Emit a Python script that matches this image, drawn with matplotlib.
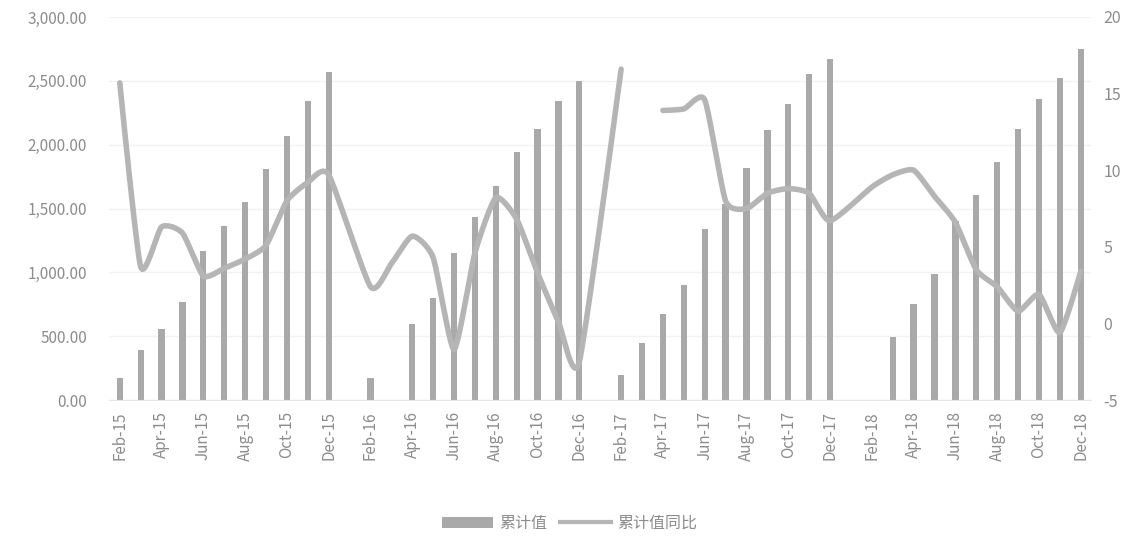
import numpy as np
import matplotlib.pyplot as plt
from matplotlib.patches import Patch
from matplotlib.lines import Line2D

plt.rcParams['font.family'] = ['Noto Sans CJK SC', 'DejaVu Sans']
plt.rcParams['axes.unicode_minus'] = False

# months present in the data (January rows are absent, as in the source)
months = [
    "2015-02", "2015-03", "2015-04", "2015-05", "2015-06", "2015-07", "2015-08", "2015-09", "2015-10", "2015-11", "2015-12",
    "2016-02", "2016-03", "2016-04", "2016-05", "2016-06", "2016-07", "2016-08", "2016-09", "2016-10", "2016-11", "2016-12",
    "2017-02", "2017-03", "2017-04", "2017-05", "2017-06", "2017-07", "2017-08", "2017-09", "2017-10", "2017-11", "2017-12",
    "2018-02", "2018-03", "2018-04", "2018-05", "2018-06", "2018-07", "2018-08", "2018-09", "2018-10", "2018-11", "2018-12",
]

cum_value = [
    170, 390, 560, 770, 1170, 1360, 1550, 1810, 2070, 2345, 2570,
    170, np.nan, 595, 800, 1155, 1430, 1680, 1940, 2120, 2340, 2500,
    200, 445, 675, 900, 1340, 1535, 1820, 2115, 2315, 2550, 2670,
    np.nan, 495, 750, 985, 1400, 1605, 1865, 2125, 2360, 2520, 2750,
]

cum_yoy = [
    15.7, 3.7, 6.3, 5.9, 3.1, 3.6, 4.2, 5.1, 8.0, 9.2, 9.7,
    2.4, 3.9, 5.7, 4.3, -1.7, 4.6, 8.2, 6.8, 3.3, 0.1, -2.5,
    16.6, np.nan, 13.9, 14.0, 14.6, 8.0, 7.5, 8.5, 8.8, 8.5, 6.7,
    8.9, 9.7, 10.0, 8.3, 6.6, 3.5, 2.4, 0.8, 1.9, -0.6, 3.4,
]

tick_labels = [
    "Feb-15", "Apr-15", "Jun-15", "Aug-15", "Oct-15", "Dec-15",
    "Feb-16", "Apr-16", "Jun-16", "Aug-16", "Oct-16", "Dec-16",
    "Feb-17", "Apr-17", "Jun-17", "Aug-17", "Oct-17", "Dec-17",
    "Feb-18", "Apr-18", "Jun-18", "Aug-18", "Oct-18", "Dec-18",
]


def month_index(s):
    year, m = s.split("-")
    return (int(year) - 2015) * 12 + (int(m) - 2)


def smooth(xs, ys, n=20, k=0.6):
    # hermite curve through the points, softer tangents than catmull-rom
    xs = np.asarray(xs, dtype=float)
    ys = np.asarray(ys, dtype=float)
    if len(xs) < 3:
        return xs, ys
    mx = np.gradient(xs) * k
    my = np.gradient(ys) * k
    mx[0] = mx[-1] = 0
    my[0] = my[-1] = 0
    t = np.linspace(0, 1, n, endpoint=False)
    h00 = 2 * t**3 - 3 * t**2 + 1
    h10 = t**3 - 2 * t**2 + t
    h01 = -2 * t**3 + 3 * t**2
    h11 = t**3 - t**2
    out_x, out_y = [], []
    for i in range(len(xs) - 1):
        out_x.extend(h00 * xs[i] + h10 * mx[i] + h01 * xs[i + 1] + h11 * mx[i + 1])
        out_y.extend(h00 * ys[i] + h10 * my[i] + h01 * ys[i + 1] + h11 * my[i + 1])
    out_x.append(xs[-1])
    out_y.append(ys[-1])
    return np.array(out_x), np.array(out_y)


x = np.array([month_index(m) for m in months])
vals = np.array(cum_value, dtype=float)
yoy = np.array(cum_yoy, dtype=float)

bar_color = "#a9a9a9"
line_color = "#b5b5b5"
text_color = "#8c8c8c"

fig = plt.figure(figsize=(11.39, 5.48), dpi=100)
ax = fig.add_axes([0.096, 0.27, 0.862, 0.699])

ok = ~np.isnan(vals)
ax.bar(x[ok], vals[ok], width=0.3, color=bar_color, zorder=2)

ax.set_xlim(-0.5, 46.5)
ax.set_ylim(0, 3000)
ax.set_yticks(np.arange(0, 3001, 500))
ax.set_yticklabels([f"{v:,.2f}" for v in np.arange(0, 3001, 500)])
ax.set_xticks(np.arange(0, 47, 2))
ax.set_xticklabels(tick_labels, rotation=90)
ax.yaxis.grid(True, color="#f2f2f2", linewidth=1, zorder=0)
ax.set_axisbelow(True)

for s in ["top", "left", "right"]:
    ax.spines[s].set_visible(False)
ax.spines["bottom"].set_color("#e6e6e6")
ax.tick_params(axis="both", length=0, colors=text_color)
ax.tick_params(axis="y", pad=16, labelsize=11)
ax.tick_params(axis="x", pad=8, labelsize=11)

ax2 = ax.twinx()
ax2.set_ylim(-5, 20)
ax2.set_yticks(np.arange(-5, 21, 5))
for s in ax2.spines.values():
    s.set_visible(False)
ax2.tick_params(axis="y", length=0, colors=text_color, labelsize=11.5, pad=9)

# split the line where a value is missing
seg_x, seg_y = [], []
for xi, yi in zip(x, yoy):
    if np.isnan(yi):
        if seg_x:
            sx, sy = smooth(seg_x, seg_y)
            ax2.plot(sx, sy, color=line_color, linewidth=4, solid_capstyle="round")
        seg_x, seg_y = [], []
    else:
        seg_x.append(xi)
        seg_y.append(yi)
if seg_x:
    sx, sy = smooth(seg_x, seg_y)
    ax2.plot(sx, sy, color=line_color, linewidth=4, solid_capstyle="round")

handles = [
    Patch(facecolor=bar_color, edgecolor="none"),
    Line2D([0], [0], color=line_color, linewidth=3),
]
fig.legend(handles, ["累计值", "累计值同比"], loc="center", bbox_to_anchor=(0.5, 0.045),
           ncol=2, frameon=False, fontsize=11.5, labelcolor=text_color,
           handlelength=3.2, handletextpad=0.4, columnspacing=0.8)

plt.savefig("out.png", dpi=100)
plt.close()
